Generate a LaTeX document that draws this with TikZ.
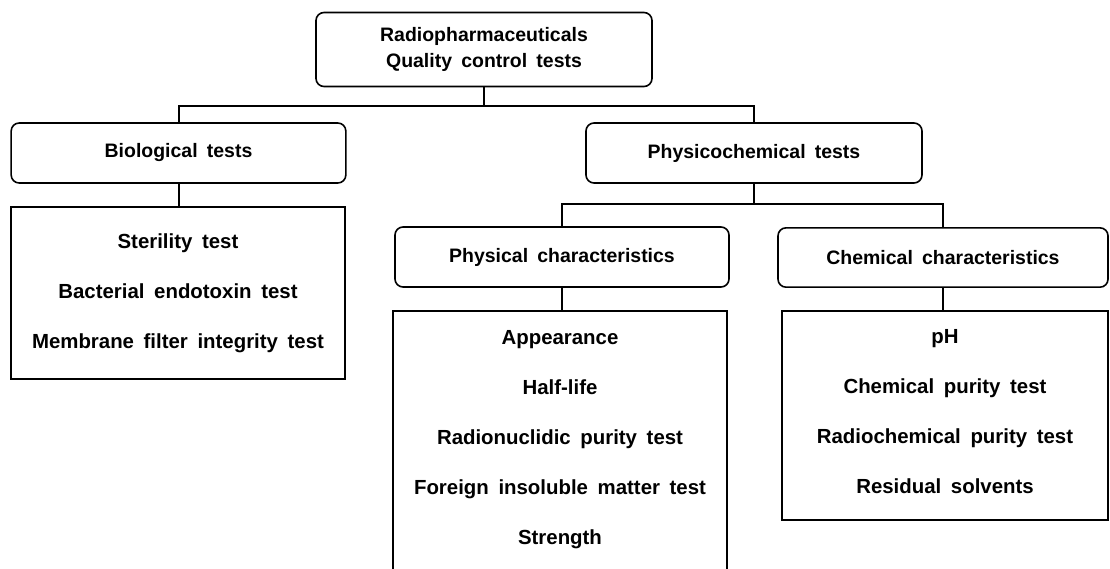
\documentclass[tikz,border=0pt]{standalone}
\usepackage{fontspec}
\setmainfont{Liberation Sans}[WordSpace=1.7]
\usetikzlibrary{positioning}

\begin{document}
\begin{tikzpicture}[
  x=0.75pt, y=-0.75pt,
  head/.style={draw, rounded corners=6pt, line width=1.2pt, align=center, inner sep=0pt,
    font=\bfseries\fontsize{14.6}{19}\selectfont},
  list/.style={draw, line width=1.5pt, align=center, inner sep=0pt,
    font=\bfseries\fontsize{15.3}{37.5}\selectfont},
  link/.style={draw, line width=1.5pt}
]
\useasboundingbox (0,0) rectangle (1110,568);

% Heads
\node[head, minimum width=252pt, minimum height=55.5pt] (qc) at (484,49.5) {Radiopharmaceuticals\\Quality control tests};
\node[head, minimum width=251pt, minimum height=45pt] (bio) at (178.5,153) {Biological tests};
\node[head, minimum width=252pt, minimum height=45pt] (pc) at (754,153) {Physicochemical tests};
\node[head, minimum width=250.5pt, minimum height=45pt] (phy) at (562,257) {Physical characteristics};
\node[head, minimum width=247.5pt, minimum height=44.5pt] (chem) at (943,257.5) {Chemical characteristics};

% Lists
\node[list, minimum width=250.5pt, minimum height=129pt] (biolist) at (178,293) {%
  Sterility test\\Bacterial endotoxin test\\Membrane filter integrity test};
\node[list, minimum width=250.5pt, minimum height=202pt] (phylist) at (560,445.5) {%
  Appearance\\Half-life\\Radionuclidic purity test\\Foreign insoluble matter test\\Strength\\[-24.75pt]\mbox{}};
\node[list, minimum width=244.5pt, minimum height=156.75pt] (chemlist) at (945,415.5) {%
  pH\\Chemical purity test\\Radiochemical purity test\\Residual solvents\\[-32pt]\mbox{}};

% Links
\draw[link] (qc.south) -- ++(0,19) coordinate (j1);
\draw[link] (j1) -| (bio.north);
\draw[link] (j1) -| (pc.north);
\draw[link] (pc.south) -- ++(0,20) coordinate (j2);
\draw[link] (j2) -| (phy.north);
\draw[link] (j2) -| (chem.north);
\draw[link] (bio) -- (bio |- biolist.north);
\draw[link] (phy) -- (phy |- phylist.north);
\draw[link] (chem) -- (chem |- chemlist.north);

\end{tikzpicture}
\end{document}
